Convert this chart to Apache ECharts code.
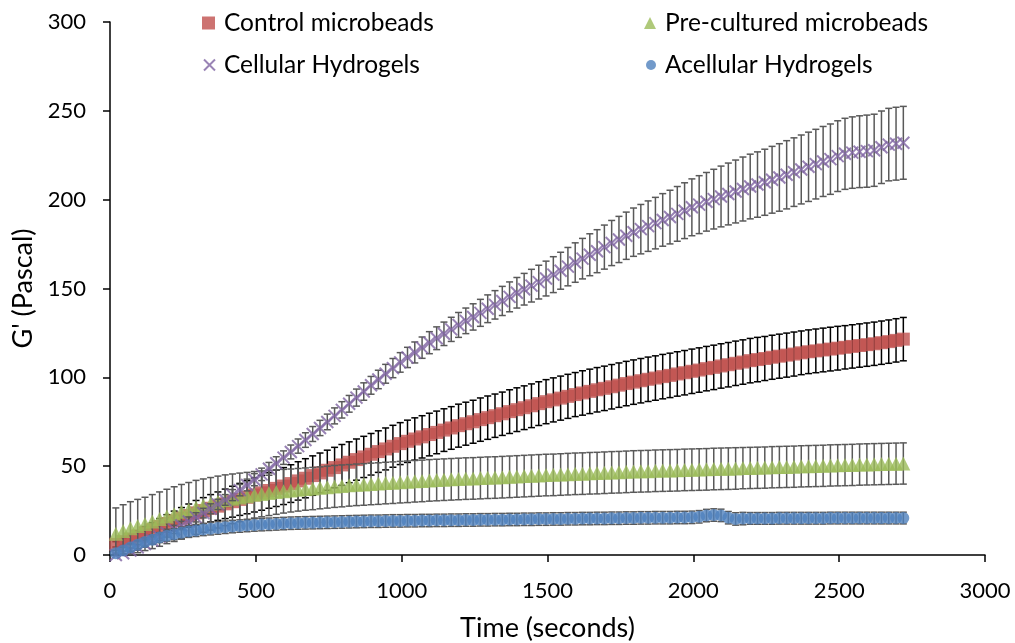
<!DOCTYPE html>
<html>
<head>
<meta charset="utf-8">
<script src="https://cdn.jsdelivr.net/npm/echarts@6/dist/echarts.min.js"></script>
<style>
html,body{margin:0;padding:0;background:#fff;}
#chart{width:1015px;height:643px;}
</style>
</head>
<body>
<div id="chart"></div>
<script>
// ---- Data ----
const times = [20,45,70,95,120,145,170,195,220,245,270,295,320,345,370,395,420,445,470,495,520,545,570,595,620,645,670,695,720,745,770,795,820,845,870,895,920,945,970,995,1020,1045,1070,1095,1120,1145,1170,1195,1220,1245,1270,1295,1320,1345,1370,1395,1420,1445,1470,1495,1520,1545,1570,1595,1620,1645,1670,1695,1720,1745,1770,1795,1820,1845,1870,1895,1920,1945,1970,1995,2020,2045,2070,2095,2120,2145,2170,2195,2220,2245,2270,2295,2320,2345,2370,2395,2420,2445,2470,2495,2520,2545,2570,2595,2620,2645,2670,2695,2720];

const seriesNames = ['Control microbeads','Pre-cultured microbeads','Cellular Hydrogels','Acellular Hydrogels'];

const controlVals = [6,7.5,9,10.7,12.5,14.2,16,17.7,19.2,20.7,22.2,23.7,25,26.3,27.5,28.8,30,31.3,32.5,33.8,35,36.3,37.5,38.8,40.2,41.7,43.2,44.7,46.2,47.7,49.2,50.7,52.2,53.7,55.2,56.7,58.2,59.7,61.2,62.7,64,65.3,66.5,67.8,69,70.3,71.5,72.8,73.9,75,76.2,77.3,78.4,79.5,80.7,81.8,82.9,84,85.2,86.3,87.3,88.3,89.3,90.3,91.2,92.1,93,93.8,94.7,95.6,96.5,97.3,98.1,98.9,99.6,100.4,101.1,101.9,102.6,103.4,104.1,104.9,105.6,106.4,107.1,107.9,108.6,109.4,110,110.6,111.3,111.9,112.5,113.1,113.8,114.4,114.9,115.4,115.9,116.4,116.9,117.4,117.9,118.4,118.9,119.5,120.1,120.8,121.5];
const controlErr = [1.5,2,2.5,3,3.5,4,4.5,5,5.5,6,6.5,7,7.3,7.7,8,8.3,8.7,9,9.3,9.6,9.8,10,10.2,10.4,10.6,10.8,11,11.1,11.2,11.3,11.4,11.5,11.5,11.6,11.6,11.7,11.7,11.8,11.8,11.8,11.9,11.9,11.9,12,12,12,12,12.1,12.1,12.1,12.2,12.2,12.2,12.2,12.3,12.3,12.3,12.3,12.3,12.4,12.4,12.4,12.4,12.4,12.5,12.5,12.5,12.5,12.5,12.5,12.5,12.5,12.5,12.5,12.5,12.5,12.5,12.5,12.5,12.5,12.5,12.5,12.5,12.5,12.5,12.5,12.5,12.5,12.5,12.4,12.4,12.4,12.4,12.4,12.3,12.3,12.3,12.3,12.3,12.3,12.2,12.2,12.2,12.2,12.2,12.2,12.2,12.2,12.2];

const precultVals = [12,13.5,15,16.3,17.5,18.8,20.2,21.7,23,24.3,25.5,26.8,27.8,28.8,29.8,30.8,31.6,32.4,33.1,33.9,34.4,34.9,35.4,35.9,36.3,36.7,37.1,37.4,37.8,38.2,38.6,38.9,39.2,39.5,39.7,40,40.2,40.5,40.7,41,41.2,41.5,41.7,42,42.2,42.4,42.6,42.8,43,43.1,43.3,43.5,43.6,43.8,44,44.2,44.4,44.6,44.8,45,45.1,45.3,45.5,45.7,45.8,46,46.1,46.3,46.5,46.6,46.8,47,47.1,47.2,47.4,47.5,47.6,47.7,47.9,48,48.1,48.2,48.4,48.5,48.6,48.7,48.9,49,49.1,49.2,49.4,49.5,49.6,49.7,49.9,50,50.1,50.2,50.4,50.5,50.6,50.7,50.9,51,51.1,51.2,51.3,51.4,51.5];
const precultErr = [14.5,14.8,15,15,15,15.2,15.3,15.3,15.4,15.4,15.3,15.2,15,14.8,14.6,14.3,14,13.7,13.4,13.1,12.9,12.7,12.5,12.3,12.1,12,11.9,11.9,11.8,11.8,11.8,11.8,11.7,11.7,11.7,11.7,11.7,11.7,11.7,11.7,11.7,11.7,11.7,11.7,11.7,11.7,11.7,11.7,11.7,11.7,11.7,11.7,11.7,11.7,11.7,11.7,11.7,11.7,11.7,11.7,11.7,11.7,11.7,11.7,11.7,11.7,11.7,11.7,11.7,11.7,11.7,11.7,11.7,11.7,11.7,11.7,11.7,11.7,11.7,11.7,11.7,11.7,11.7,11.7,11.7,11.7,11.6,11.6,11.6,11.6,11.6,11.6,11.6,11.6,11.6,11.6,11.6,11.6,11.6,11.6,11.6,11.6,11.6,11.6,11.6,11.6,11.6,11.6,11.6];

const cellularVals = [0,1,2.5,4.3,6.2,8.2,10.2,12.3,14.4,16.6,18.9,21.2,23.6,26,28.5,31,33.7,36.5,39.4,42.4,45.4,48.5,51.6,54.8,58,61.3,64.7,68.1,71.5,74.9,78.3,81.7,85.1,88.6,92,95.5,98.8,102,105.2,108.4,111.2,114,116.7,119.5,122,124.5,127,129.5,131.8,134,136.3,138.6,140.8,143,145.3,147.6,149.6,151.6,153.6,155.6,157.8,160,162.3,164.6,166.8,169,171,173.3,175.6,177.6,179.7,181.7,183.4,185.1,186.8,188.6,190.2,192,193.8,195.7,197.2,198.8,200.3,201.8,203.2,204.6,206,207.4,208.5,209.8,211.2,212.5,214,215.5,217,218.5,220,221.5,222.8,224.5,225.8,226.5,227,227.3,227.8,229.5,231,231.5,232];
const cellularErr = [1,1.2,1.4,1.6,1.8,2,2.1,2.2,2.3,2.4,2.5,2.6,2.7,2.8,2.9,3,3.1,3.2,3.3,3.4,3.5,3.6,3.7,3.8,3.9,4,4.1,4.2,4.3,4.4,4.5,4.6,4.7,4.8,4.9,5,5.2,5.3,5.4,5.5,5.7,5.9,6,6.2,6.4,6.6,6.8,7,7.2,7.4,7.6,7.8,8,8.2,8.4,8.6,8.9,9.2,9.5,9.8,10.1,10.4,10.8,11.1,11.4,11.8,12.1,12.4,12.7,13,13.3,13.6,13.9,14.2,14.5,14.8,15.1,15.4,15.7,16,16.3,16.5,16.8,17.1,17.4,17.7,18,18.2,18.4,18.6,18.8,19,19.2,19.3,19.4,19.5,19.6,19.7,19.8,19.9,20,20.1,20.2,20.3,20.3,20.4,20.4,20.5,20.5];

const acellularVals = [1,2.5,4.2,5.8,7.3,8.6,9.8,10.8,11.7,12.5,13.2,13.8,14.3,14.8,15.2,15.6,16,16.3,16.6,16.9,17.1,17.3,17.5,17.7,17.9,18,18.1,18.2,18.3,18.4,18.5,18.6,18.7,18.8,18.9,19,19,19.1,19.2,19.2,19.3,19.3,19.4,19.4,19.5,19.5,19.6,19.6,19.7,19.7,19.8,19.8,19.9,19.9,20,20,20.1,20.1,20.2,20.2,20.3,20.3,20.4,20.4,20.5,20.5,20.6,20.6,20.7,20.7,20.8,20.8,20.9,20.9,21,21,21,21.1,21.1,21.2,21.5,22.2,22.5,22.3,21,20.3,20.5,20.6,20.6,20.6,20.6,20.7,20.7,20.7,20.7,20.7,20.7,20.7,20.8,20.8,20.8,20.8,20.8,20.8,20.8,20.8,20.8,20.8,20.8];
const acellularErr = [1.5,1.8,2,2.2,2.4,2.6,2.8,3,3.1,3.2,3.3,3.4,3.4,3.5,3.5,3.5,3.5,3.5,3.5,3.5,3.5,3.5,3.5,3.5,3.5,3.5,3.5,3.5,3.5,3.5,3.5,3.5,3.5,3.5,3.5,3.5,3.5,3.5,3.5,3.5,3.5,3.5,3.5,3.5,3.5,3.5,3.5,3.5,3.5,3.5,3.5,3.5,3.5,3.5,3.5,3.5,3.5,3.5,3.5,3.5,3.5,3.5,3.5,3.5,3.5,3.5,3.5,3.5,3.5,3.5,3.5,3.5,3.5,3.5,3.5,3.5,3.5,3.5,3.5,3.5,3.5,3.5,3.5,3.5,3.5,3.5,3.5,3.3,3.3,3.3,3.3,3.3,3.3,3.3,3.3,3.3,3.3,3.3,3.3,3.3,3.3,3.3,3.3,3.3,3.3,3.3,3.3,3.3,3.3];

// ---- Chart ----
const FONT = "Lato, 'Liberation Sans', Arial, sans-serif";
const TXT = '#000';

function pts(vals, errs) { return times.map((t, i) => [t, vals[i], errs[i]]); }

function errSeries(vals, errs, color, z) {
  return {
    type: 'custom', name: '_err', silent: true, z: z, clip: true,
    data: pts(vals, errs),
    encode: { x: 0, y: 1 },
    renderItem: function (params, api) {
      const x = api.value(0), y = api.value(1), e = api.value(2);
      const top = api.coord([x, y + e]);
      const bot = api.coord([x, y - e]);
      const hw = 3.5;
      const st = { stroke: color, lineWidth: 1.5, fill: null };
      return {
        type: 'group',
        children: [
          { type: 'line', shape: { x1: top[0], y1: top[1], x2: bot[0], y2: bot[1] }, style: st },
          { type: 'line', shape: { x1: top[0] - hw, y1: top[1], x2: top[0] + hw, y2: top[1] }, style: st },
          { type: 'line', shape: { x1: bot[0] - hw, y1: bot[1], x2: bot[0] + hw, y2: bot[1] }, style: st }
        ]
      };
    }
  };
}

function markSeries(name, vals, symbol, size, itemStyle, z) {
  return {
    type: 'scatter', name: name, z: z, symbol: symbol, symbolSize: size,
    data: times.map((t, i) => [t, vals[i]]),
    itemStyle: itemStyle, emphasis: { disabled: true }, silent: true
  };
}

const XPATH = 'path://M0,0L10,10M10,0L0,10';

const series = [
  errSeries(controlVals, controlErr, '#000000', 2),
  markSeries(seriesNames[0], controlVals, 'rect', 13, { color: '#C0504D' }, 3),
  errSeries(precultVals, precultErr, '#595959', 4),
  markSeries(seriesNames[1], precultVals, 'triangle', 14, { color: '#9BBB59' }, 5),
  errSeries(cellularVals, cellularErr, '#595959', 6),
  markSeries(seriesNames[2], cellularVals, XPATH, 12, { color: 'rgba(0,0,0,0)', borderColor: '#8064A2', borderWidth: 2 }, 7),
  errSeries(acellularVals, acellularErr, '#595959', 8),
  markSeries(seriesNames[3], acellularVals, 'circle', 12, { color: '#4F81BD' }, 9)
];

function legendAt(name, icon, left, top, w, h) {
  return {
    data: [{ name: name, icon: icon }],
    left: left, top: top, padding: 0,
    itemWidth: w, itemHeight: h, selectedMode: false,
    textStyle: { fontFamily: FONT, fontSize: 24.5, color: TXT, lineHeight: 30, padding: [0, 0, 0, 4] }
  };
}

const option = {
  animation: false,
  backgroundColor: '#ffffff',
  grid: { left: 110, right: 30, top: 22, bottom: 88, containLabel: false, outerBoundsMode: 'none' },
  legend: [
    legendAt(seriesNames[0], 'rect', 202, 8, 13, 13),
    legendAt(seriesNames[2], XPATH, 203, 50, 11, 11),
    legendAt(seriesNames[1], 'triangle', 644, 8, 12, 12),
    legendAt(seriesNames[3], 'circle', 646, 50, 10, 10)
  ],
  xAxis: {
    type: 'value', min: 0, max: 3000, interval: 500,
    name: 'Time (seconds)', nameLocation: 'middle', nameGap: 60,
    nameTextStyle: { fontFamily: FONT, fontSize: 27, color: TXT },
    axisLine: { show: true, onZero: false, lineStyle: { color: '#000', width: 1.5 } },
    axisTick: { show: true, inside: false, length: 7, lineStyle: { color: '#000', width: 1.5 } },
    axisLabel: { fontFamily: FONT, fontSize: 22, color: TXT, margin: 25, formatter: function (v) { return String(v); } },
    splitLine: { show: false }
  },
  yAxis: {
    type: 'value', min: 0, max: 300, interval: 50,
    name: "G' (Pascal)", nameLocation: 'middle', nameGap: 70, nameRotate: 90,
    nameTextStyle: { fontFamily: FONT, fontSize: 27, color: TXT },
    axisLine: { show: true, onZero: false, lineStyle: { color: '#000', width: 1.5 } },
    axisTick: { show: true, inside: false, length: 7, lineStyle: { color: '#000', width: 1.5 } },
    axisLabel: { fontFamily: FONT, fontSize: 22, color: TXT, margin: 24, formatter: function (v) { return String(v); } },
    splitLine: { show: false }
  },
  series: series
};

const chart = echarts.init(document.getElementById('chart'), null, { renderer: 'canvas' });
chart.setOption(option);
</script>
</body>
</html>
